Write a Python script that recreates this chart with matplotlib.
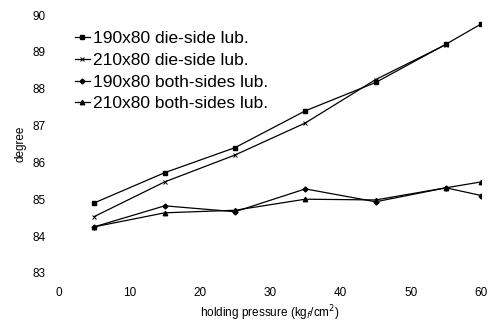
import matplotlib
matplotlib.use('Agg')
import matplotlib.pyplot as plt

# ------------------ DATA ------------------

pressure = [5, 15, 25, 35, 45, 55, 60]
pressure_210_die = [5, 15, 25, 35, 45, 55]

die_190 = [84.90, 85.72, 86.40, 87.40, 88.17, 89.21, 89.76]
die_210 = [84.53, 85.47, 86.20, 87.07, 88.25, 89.20]
both_190 = [84.25, 84.82, 84.66, 85.28, 84.93, 85.31, 85.10]
both_210 = [84.25, 84.63, 84.70, 85.00, 84.98, 85.31, 85.47]

labels = ['190x80 die-side lub.', '210x80 die-side lub.',
          '190x80 both-sides lub.', '210x80 both-sides lub.']
xticks = [0, 10, 20, 30, 40, 50, 60]
yticks = [83, 84, 85, 86, 87, 88, 89, 90]

# ------------------ PLOT ------------------

plt.rcParams['font.family'] = ['Liberation Sans', 'DejaVu Sans']

fig = plt.figure(figsize=(4.89, 3.21), dpi=100)
ax = fig.add_axes([0.121, 0.150, 0.863, 0.803])

ax.plot(pressure, die_190, color='black', lw=0.9, marker='s', ms=3.2, label=labels[0])
ax.plot(pressure_210_die, die_210, color='black', lw=0.9, marker='x', ms=3.5, mew=0.7, label=labels[1])
ax.plot(pressure, both_190, color='black', lw=0.9, marker='D', ms=2.5, label=labels[2])
ax.plot(pressure, both_210, color='black', lw=0.9, marker='^', ms=3.2, label=labels[3])

ax.set_xlim(0, 60)
ax.set_ylim(83, 90)
ax.set_xticks(xticks)
ax.set_yticks(yticks)
ax.tick_params(length=0, labelsize=8.5, pad=10)
for s in ax.spines.values():
    s.set_visible(False)

ax.set_xlabel(r'holding pressure (kg$_f$/cm$^2$)', fontsize=8.5, labelpad=3)
ax.set_ylabel('degree', fontsize=8.5, labelpad=4)

ax.legend(loc='upper left', bbox_to_anchor=(0.02, 0.965), frameon=False,
          fontsize=12.5, handlelength=0.9, handletextpad=0.15, labelspacing=0.38,
          borderaxespad=0)

fig.savefig('out.png', dpi=100)
